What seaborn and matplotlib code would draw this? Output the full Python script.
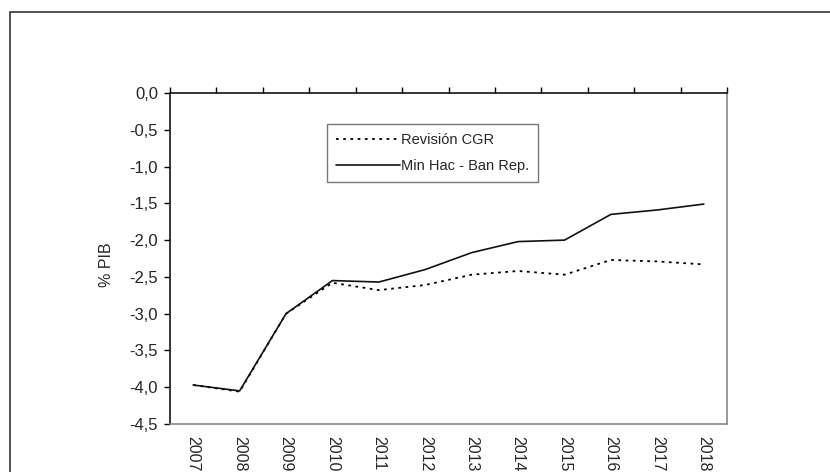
import numpy as np
import pandas as pd
import seaborn as sns
import matplotlib.pyplot as plt
from matplotlib.patches import Rectangle
from matplotlib.ticker import FixedLocator

years = ['2007', '2008', '2009', '2010', '2011', '2012',
         '2013', '2014', '2015', '2016', '2017', '2018']
revision_cgr = [-3.97, -4.06, -3.00, -2.58, -2.68, -2.61,
                -2.47, -2.42, -2.47, -2.27, -2.29, -2.33]
min_hac = [-3.97, -4.05, -3.00, -2.55, -2.57, -2.40,
           -2.17, -2.02, -2.00, -1.65, -1.59, -1.51]
yticks = [0.0, -0.5, -1.0, -1.5, -2.0, -2.5, -3.0, -3.5, -4.0, -4.5]

sns.set_style('white')
plt.rcParams['font.family'] = ['Liberation Sans', 'DejaVu Sans']

pos = np.arange(len(years))
fig = plt.figure(figsize=(8.3, 4.72), dpi=100)
ax = fig.add_axes([170 / 830, 48 / 472, 557 / 830, 331 / 472])

sns.lineplot(x=pos, y=revision_cgr, ax=ax, color='black', lw=1.3,
             linestyle=(0, (1.5, 2.5)), label='Revisión CGR')
sns.lineplot(x=pos, y=min_hac, ax=ax, color='#111111', lw=1.2,
             label='Min Hac - Ban Rep.')

ax.set_xlim(-0.5, len(years) - 0.5)
ax.set_ylim(-4.5, 0)
ax.set_yticks(yticks)
ax.set_yticklabels([f'{v:.1f}'.replace('.', ',') for v in yticks], fontsize=12)
ax.set_xticks(pos)
ax.set_xticklabels(years, rotation=270, fontsize=11.5, va='top', ha='center')
ax.xaxis.set_minor_locator(FixedLocator(np.arange(-0.5, len(years), 1)))
ax.tick_params(axis='x', which='major', bottom=True, top=False, length=0, pad=9)
ax.tick_params(axis='x', which='minor', bottom=False, top=True, length=4,
               direction='out', color='black', width=1)
ax.tick_params(axis='y', left=True, length=4.5, direction='out', width=1, color='black', pad=4)
ax.set_ylabel('% PIB', fontsize=11.5)
ax.yaxis.set_label_coords(-0.101, 0.48)

for side in ['left', 'top']:
    ax.spines[side].set_color('black')
    ax.spines[side].set_linewidth(1.1)
for side in ['right', 'bottom']:
    ax.spines[side].set_color('#888888')
    ax.spines[side].set_linewidth(1.2)

leg = ax.legend(loc='upper left', bbox_to_anchor=(0.282, 0.906), borderaxespad=0,
                fontsize=10.5, handlelength=4.4, handletextpad=0.1,
                fancybox=False, frameon=True, borderpad=0.6, labelspacing=0.85)
leg.get_frame().set_edgecolor('#555555')
leg.get_frame().set_linewidth(1.0)

fig.add_artist(Rectangle((9.5 / 830, -0.1), 1.0, 1.1 - 11.5 / 472,
                         transform=fig.transFigure, fill=False,
                         edgecolor='#333333', lw=1.2))

fig.savefig('out.png', dpi=100)
